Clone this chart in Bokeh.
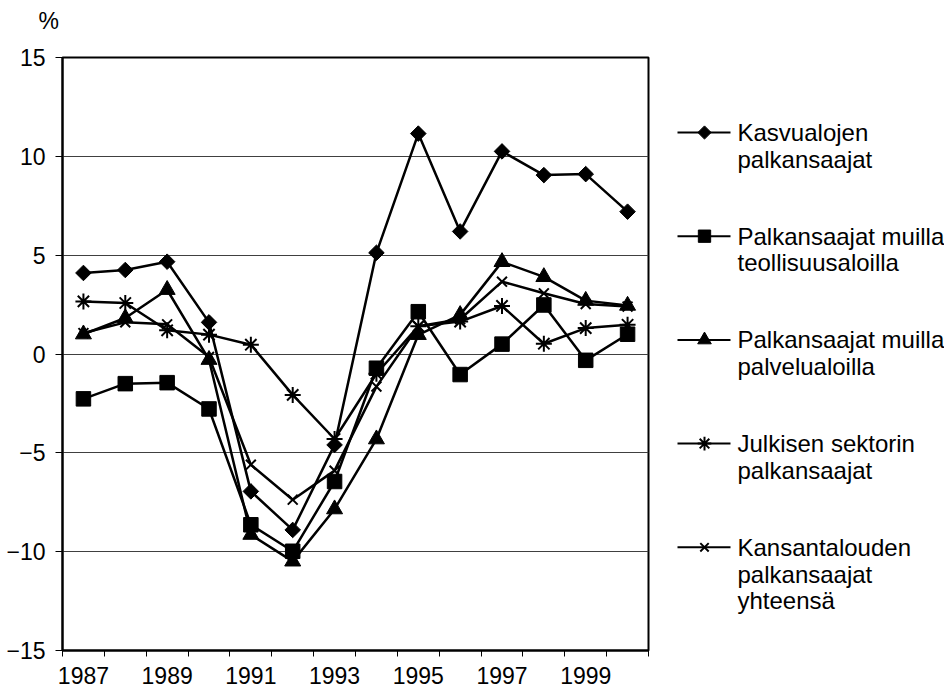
import numpy as np
from bokeh.plotting import figure
from bokeh.models import Range1d, FixedTicker, ColumnDataSource
from bokeh.layouts import row, column
from bokeh.core.properties import value
from bokeh.embed import file_html
from bokeh.resources import INLINE

# ---------------- data ----------------
years = [1987, 1988, 1989, 1990, 1991, 1992, 1993, 1994, 1995, 1996, 1997, 1998, 1999, 2000]
kasvualat = [4.1, 4.25, 4.67, 1.6, -6.95, -8.9, -4.6, 5.12, 11.15, 6.2, 10.25, 9.05, 9.1, 7.2]
teollisuus = [-2.27, -1.5, -1.45, -2.78, -8.64, -9.98, -6.45, -0.72, 2.14, -1.04, 0.5, 2.48, -0.32, 1.0]
palvelut = [1.0, 1.82, 3.25, -0.29, -9.14, -10.49, -7.85, -4.31, 0.97, 1.98, 4.66, 3.9, 2.7, 2.45]
julkinen = [2.66, 2.58, 1.2, 0.98, 0.47, -2.07, -4.3, -1.0, 1.4, 1.64, 2.43, 0.52, 1.31, 1.48]
kansantalous = [1.06, 1.6, 1.5, -0.15, -5.6, -7.37, -5.9, -1.65, 1.4, 1.76, 3.66, 3.07, 2.53, 2.4]

series_labels = [
    ["Kasvualojen", "palkansaajat"],
    ["Palkansaajat muilla", "teollisuusaloilla"],
    ["Palkansaajat muilla", "palvelualoilla"],
    ["Julkisen sektorin", "palkansaajat"],
    ["Kansantalouden", "palkansaajat", "yhteensä"],
]
y_ticks = [-15, -10, -5, 0, 5, 10, 15]
x_label_years = [1987, 1989, 1991, 1993, 1995, 1997, 1999]
y_unit = "%"

FONT = "Liberation Sans"
AX_FS = "23px"
LG_FS = "24px"

series = [kasvualat, teollisuus, palvelut, julkinen, kansantalous]
marker_styles = [
    dict(marker="square", size=11, angle=np.pi / 4),
    dict(marker="square", size=14.5, angle=0.0),
    dict(marker="triangle", size=16, angle=0.0),
    dict(marker="asterisk", size=16, angle=0.0),
    dict(marker="x", size=14, angle=0.0),
]

TOTAL_W = 944
FRAME_TOP = 57
B_TOP = 16
HEAD_H = FRAME_TOP - B_TOP
B_LEFT, B_BOTTOM, B_RIGHT = 62, 41, 10
FW, FH = 586, 593


def blank_panel(w, h, x0, y0, **kw):
    f = figure(frame_width=w, frame_height=h, min_border=0,
               x_range=Range1d(x0, x0 + w), y_range=Range1d(y0 + h, y0),
               output_backend="svg", toolbar_location=None, **kw)
    f.axis.visible = False
    f.grid.visible = False
    f.outline_line_color = None
    f.background_fill_color = "white"
    f.border_fill_color = "white"
    return f


# ---------------- header (unit label) ----------------
head = blank_panel(TOTAL_W, HEAD_H, 0, 0)
head.text(x=[38], y=[20], text=[y_unit], text_font=value(FONT), text_font_size=AX_FS,
          text_color="black", text_baseline="middle", text_align="left")

# ---------------- main chart ----------------
p = figure(frame_width=FW, frame_height=FH,
           min_border_left=B_LEFT, min_border_right=B_RIGHT,
           min_border_top=B_TOP, min_border_bottom=B_BOTTOM,
           x_range=Range1d(years[0] - 0.5, years[-1] + 0.5), y_range=Range1d(-15, 15),
           output_backend="svg", toolbar_location=None)
p.background_fill_color = "white"
p.border_fill_color = "white"
p.outline_line_color = "black"
p.outline_line_width = 2

p.xgrid.visible = False
p.ygrid.ticker = FixedTicker(ticks=y_ticks)
p.ygrid.grid_line_color = "#404040"
p.ygrid.grid_line_width = 1

p.yaxis.ticker = FixedTicker(ticks=y_ticks)
p.yaxis.major_tick_out = 7
p.yaxis.major_tick_in = 0
p.yaxis.minor_tick_out = 0
p.yaxis.minor_tick_in = 0
p.yaxis.major_label_standoff = 10

boundaries = [y - 0.5 for y in years] + [years[-1] + 0.5]
p.xaxis.ticker = FixedTicker(ticks=x_label_years, minor_ticks=boundaries)
p.xaxis.major_tick_out = 0
p.xaxis.major_tick_in = 0
p.xaxis.minor_tick_out = 6
p.xaxis.minor_tick_in = 0
p.xaxis.minor_tick_line_color = "black"
p.xaxis.minor_tick_line_width = 1
p.xaxis.major_label_standoff = 10

for ax in (p.xaxis[0], p.yaxis[0]):
    ax.axis_line_color = "black"
    ax.axis_line_width = 2
    ax.major_tick_line_color = "black"
    ax.major_tick_line_width = 1
    ax.major_label_text_font = FONT
    ax.major_label_text_font_size = AX_FS
    ax.major_label_text_color = "black"

for vals, ms in zip(series, marker_styles):
    src = ColumnDataSource(dict(x=years, y=vals))
    p.line("x", "y", source=src, line_color="black", line_width=2.5)
    p.scatter("x", "y", source=src, marker=ms["marker"], size=ms["size"], angle=ms["angle"],
              fill_color="black", line_color="black",
              line_width=2 if ms["marker"] in ("asterisk", "x") else 1)

# ---------------- legend panel ----------------
main_w = B_LEFT + FW + B_RIGHT
LW = TOTAL_W - main_w
lg = figure(frame_width=LW, frame_height=FH, min_border_left=0, min_border_right=0,
            min_border_top=B_TOP, min_border_bottom=B_BOTTOM,
            x_range=Range1d(main_w, main_w + LW), y_range=Range1d(FRAME_TOP + FH, FRAME_TOP),
            output_backend="svg", toolbar_location=None)
lg.axis.visible = False
lg.grid.visible = False
lg.outline_line_color = None
lg.background_fill_color = "white"
lg.border_fill_color = "white"

# legend layout (page pixel coordinates)
entry_y0 = 132
entry_step = 103.7
line_step = 26.7
sample_x0, sample_x1, marker_x, text_x = 677, 730, 704, 737
for i, (labels, ms) in enumerate(zip(series_labels, marker_styles)):
    yy = entry_y0 + i * entry_step
    lg.segment(x0=[sample_x0], y0=[yy], x1=[sample_x1], y1=[yy], line_color="black", line_width=2)
    lg.scatter(x=[marker_x], y=[yy], marker=ms["marker"], size=ms["size"] * 0.85, angle=ms["angle"],
               fill_color="black", line_color="black",
               line_width=2 if ms["marker"] in ("asterisk", "x") else 1)
    lg.text(x=[text_x] * len(labels), y=[yy + k * line_step for k in range(len(labels))], text=labels,
            text_font=value(FONT), text_font_size=LG_FS, text_color="black",
            text_baseline="middle", text_align="left")

layout = column(head, row(p, lg))
open("out.html", "w").write(file_html(layout, INLINE))
